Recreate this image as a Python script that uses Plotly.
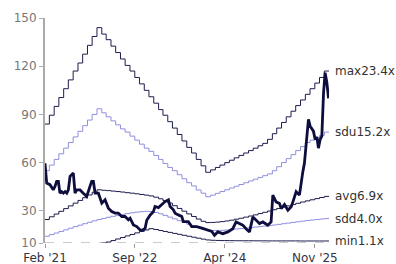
import plotly.graph_objects as go
import pandas as pd

# ---- data ----
band_months = pd.date_range("2021-02-01", periods=60, freq="MS")
band_end = "2026-01-31"

max_band = [84, 89.5, 95, 100.5, 106, 111.5, 117, 122, 127.5, 133, 138.5, 144,
            140, 136.5, 132.5, 128.5, 124.5, 120.5, 117, 113, 109, 105, 101, 97,
            93, 89.5, 85.5, 81.5, 77.5, 73.5, 69.5, 66, 62, 58, 54,
            55.5, 57, 58.5, 60, 61.5, 63, 64.5, 66, 67.5, 69, 70.5, 72, 74.5,
            78, 81.5, 85, 88.5, 92, 95.5, 99, 102.5, 106, 109.5, 113, 117]
sdu_band = [55, 58.5, 62, 65.5, 69, 72.5, 76, 79.5, 83, 86.5, 90, 93.5,
            91, 88.5, 86, 83.5, 81, 79, 76.5, 74, 71.5, 69, 67, 64.5,
            62, 59.5, 57, 55, 52.5, 50, 47.5, 45.5, 43, 41, 38.75,
            39.8, 40.9, 42, 43.1, 44.2, 45.3, 46.4, 47.5, 48.6, 49.7, 50.8, 51.9, 53,
            55, 57.5, 60, 62.5, 65, 67.5, 70, 72.5, 74, 75.5, 77, 79]
avg_band = [24.6, 26.3, 28, 29.7, 31.4, 33.1, 34.8, 36.5, 38.2, 39.9, 41.6, 43.1,
            42.8, 42.6, 42.3, 42, 41.7, 41.3, 41, 40.6, 40.2, 39.8, 39.3, 38.5,
            37.5, 36.4, 34.8, 33.2, 31.5, 29.8, 28.1, 26.5, 24.9, 23.5, 22.7,
            22.8, 23.0, 23.3, 23.7, 24.2, 24.8, 25.4, 26.1, 26.8, 27.5, 28.3, 29.1, 29.9,
            30.7, 31.5, 32.3, 33.1, 33.9, 34.7, 35.5, 36.2, 36.9, 37.6, 38.3, 39]
sdd_band = [14.2, 15.2, 16.2, 17.2, 18.2, 19.2, 20.2, 21.1, 22, 22.9, 23.8, 24.6,
            25.3, 26, 26.6, 27.2, 27.8, 28.3, 28.8, 29.2, 29.5, 29.7, 29.6, 29,
            28.2, 27.2, 26.1, 25, 23.9, 22.8, 21.7, 20.6, 19.6, 18.7, 18,
            17.8, 17.8, 17.9, 18.1, 18.4, 18.7, 19, 19.3, 19.6, 19.9, 20.2, 20.5, 20.8,
            21.2, 21.6, 22, 22.4, 22.8, 23.2, 23.6, 24, 24.3, 24.6, 24.9, 25.2]
min_band = [0.5, 1.3, 2.1, 2.9, 3.7, 4.5, 5.3, 6.1, 6.9, 7.7, 8.5, 9.3,
            9.9, 10.6, 11.5, 12.5, 13.4, 14.4, 15.3, 16.3, 17.2, 18.1, 18.9, 18.4,
            17.8, 17.2, 16.6, 16, 15.4, 14.8, 14.2, 13.6, 13, 12.4, 11.9,
            11.7, 11.6, 11.5, 11.5, 11.45, 11.4, 11.4, 11.4, 11.4, 11.35, 11.35, 11.35, 11.3,
            11.3, 11.3, 11.3, 11.3, 11.3, 11.3, 11.25, 11.25, 11.25, 11.25, 11.25, 11.25]

band_names = ["max23.4x", "sdu15.2x", "avg6.9x", "sdd4.0x", "min1.1x"]

price_dates = [
    "2021-02-01", "2021-02-12", "2021-03-05", "2021-03-16", "2021-03-26", "2021-04-06",
    "2021-04-17", "2021-04-28", "2021-05-08", "2021-05-19", "2021-05-30", "2021-06-10",
    "2021-06-21", "2021-07-01", "2021-07-12", "2021-08-02", "2021-08-13", "2021-08-24",
    "2021-09-14", "2021-10-05", "2021-10-27", "2021-11-17", "2021-11-28", "2021-12-09",
    "2021-12-20", "2022-01-10", "2022-01-21", "2022-02-01", "2022-02-22", "2022-03-15",
    "2022-04-06", "2022-04-27", "2022-05-18", "2022-06-09", "2022-06-30", "2022-07-22",
    "2022-08-02", "2022-08-23", "2022-09-14", "2022-10-05", "2022-10-18", "2022-11-06",
    "2022-11-17", "2022-12-08", "2022-12-29", "2023-01-09", "2023-01-31", "2023-02-21",
    "2023-03-15", "2023-04-05", "2023-04-16", "2023-05-07", "2023-05-18", "2023-06-08",
    "2023-06-30", "2023-07-10", "2023-08-11", "2023-09-02", "2023-10-04", "2023-11-06",
    "2023-12-08", "2024-01-09", "2024-01-26", "2024-02-16", "2024-03-20", "2024-04-21",
    "2024-05-23", "2024-06-13", "2024-07-04", "2024-07-26", "2024-08-16", "2024-09-07",
    "2024-09-29", "2024-10-20", "2024-11-10", "2024-12-02", "2025-01-03", "2025-01-24",
    "2025-02-04", "2025-02-25", "2025-03-19", "2025-03-30", "2025-04-20", "2025-05-12",
    "2025-06-02", "2025-06-13", "2025-07-04", "2025-07-25", "2025-08-05", "2025-08-16",
    "2025-08-26", "2025-09-06", "2025-09-11", "2025-09-21", "2025-10-02", "2025-10-23",
    "2025-11-03", "2025-11-14", "2025-11-24", "2025-12-05", "2025-12-16", "2025-12-27",
    "2026-01-06", "2026-01-17", "2026-01-28",
]
price_vals = [
    59.6, 47.3, 46.3, 44.2, 43.1, 45.2,
    48.3, 48.3, 41, 42, 41, 42,
    41, 43, 51.5, 53.5, 41, 43,
    43, 41, 39, 45.2, 48.3, 48.3,
    41, 41, 38, 34.8, 36.9, 31.7,
    29.6, 28.6, 28.6, 26.5, 26.5, 24.4,
    25.4, 21.25, 20.2, 18.1, 18, 19,
    24.2, 27.3, 29.4, 32.7, 32, 33.75,
    35.8, 36.9, 32.7, 30.6, 28.6, 27.5,
    26.5, 23.3, 23.3, 20.2, 20.2, 19.2,
    18.1, 17.2, 14.8, 16.9, 15.8, 16.9,
    18.9, 23.1, 22.1, 21.1, 18.9, 16.9,
    26.25, 24.2, 22.1, 23.1, 21.1, 23.1,
    39.8, 35.6, 34.6, 31.4, 34, 30.4,
    32.5, 35.6, 41.9, 39.8, 48.1, 54.4,
    59.6, 71, 80.6, 86.9, 82.7, 79.6,
    74.4, 76, 69, 74.4, 76.5, 103.5,
    116, 110, 100,
]

x_tickvals = ["2021-02-01", "2022-09-01", "2024-04-01", "2025-11-01"]
x_ticktext = ["Feb '21", "Sep '22", "Apr '24", "Nov '25"]
y_tickvals = [10, 30, 60, 90, 120, 150]

# ---- styling ----
DARK = "#1c1c4e"
LIGHT = "#8f8fe0"
PRICE = "#0e0e3e"
FONT = "DejaVu Sans"

fig = go.Figure()
bands = [max_band, sdu_band, avg_band, sdd_band, min_band]
colors = [DARK, LIGHT, DARK, LIGHT, DARK]
bx = list(band_months) + [pd.Timestamp(band_end)]
for name, vals, col in zip(band_names, bands, colors):
    fig.add_trace(go.Scatter(x=bx, y=list(vals) + [vals[-1]], mode="lines",
                             line=dict(color=col, width=1, shape="hv"),
                             name=name, showlegend=False, hoverinfo="skip"))
    fig.add_annotation(x=band_end, y=vals[-1], text=name, showarrow=False,
                       xanchor="left", yanchor="middle", xshift=5, borderpad=0,
                       font=dict(family=FONT, size=12, color="#333333"))

fig.add_trace(go.Scatter(x=price_dates, y=price_vals, mode="lines",
                         line=dict(color=PRICE, width=2.8), showlegend=False))

fig.add_shape(type="line", xref="paper", yref="y", x0=0, x1=1, y0=10, y1=10,
              line=dict(color="#999999", width=1, dash="dash"), layer="below")

fig.update_layout(
    width=396, height=264,
    margin=dict(l=45, r=67, t=18, b=21),
    paper_bgcolor="white", plot_bgcolor="white",
    font=dict(family=FONT, size=12),
    xaxis=dict(type="date", range=["2021-02-01", band_end], automargin=False,
               tickvals=x_tickvals, ticktext=x_ticktext,
               showgrid=False, zeroline=False, showline=False,
               ticks="outside", ticklen=4, tickcolor="#999999",
               tickfont=dict(family=FONT, size=12, color="#333344")),
    yaxis=dict(range=[10, 150], tickvals=y_tickvals, automargin=False,
               showgrid=False, zeroline=False,
               showline=True, linecolor="#aaaaaa", linewidth=2,
               ticks="outside", ticklen=4, tickcolor="#aaaaaa",
               tickfont=dict(family=FONT, size=12, color="#777777")),
)

fig.write_html("out.html", config={"displayModeBar": False},
               post_script="document.body.style.margin='0';")
